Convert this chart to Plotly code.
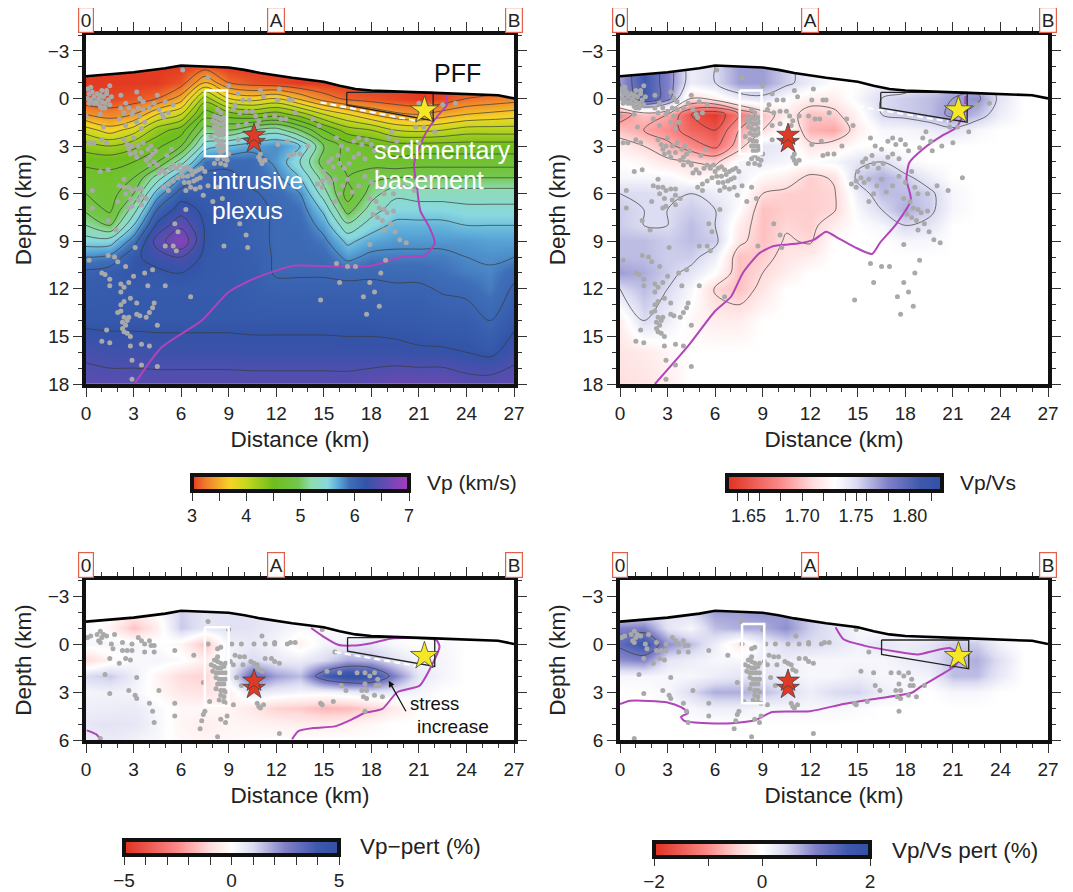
import numpy as np
import plotly.graph_objects as go

W, H = 1073, 892
PAGE_MARGIN = 8  # the page body offsets the figure
FONT = "Liberation Sans"
INK = "#222222"

# ---------- grids ----------
x_cols = [0, 1.5, 3, 4.5, 6, 7.5, 9, 10.5, 12, 13.5, 15, 16.5, 18, 19.5, 21, 22.5, 24, 25.5, 27]
deep_rows = [-2, -1, 0, 1, 2, 3, 4, 5, 6, 7, 8, 9, 10, 11, 12, 14, 16, 18]
shallow_rows = [-2, -1, 0, 1, 2, 3, 4, 5, 6]

vp_cols = [
 [3.0, 3.0, 3.05, 3.4, 3.9, 4.3, 4.55, 4.7, 4.8, 4.95, 5.2, 5.5, 5.8, 6.05, 6.1, 6.15, 6.35, 6.5],
 [3.0, 3.0, 3.05, 3.3, 3.7, 4.2, 4.55, 4.65, 4.7, 4.75, 5.0, 5.5, 5.85, 6.1, 6.13, 6.15, 6.3, 6.5],
 [3.0, 3.0, 3.1, 3.4, 3.9, 4.35, 4.6, 4.8, 5.0, 5.3, 5.6, 5.9, 6.15, 6.18, 6.13, 6.15, 6.3, 6.5],
 [3.0, 3.0, 3.2, 3.8, 4.3, 4.55, 4.8, 5.3, 5.7, 6.0, 6.25, 6.5, 6.3, 6.15, 6.13, 6.15, 6.28, 6.5],
 [3.0, 3.1, 3.5, 4.0, 4.5, 4.8, 5.3, 5.8, 6.1, 6.3, 6.55, 6.8, 6.4, 6.2, 6.13, 6.15, 6.28, 6.5],
 [3.1, 3.6, 4.3, 4.7, 5.1, 5.5, 5.9, 6.05, 6.1, 6.15, 6.18, 6.18, 6.15, 6.15, 6.13, 6.15, 6.28, 6.5],
 [3.0, 3.2, 3.8, 4.5, 5.0, 5.6, 5.95, 6.05, 6.1, 6.1, 6.1, 6.1, 6.12, 6.12, 6.13, 6.15, 6.28, 6.5],
 [3.0, 3.1, 3.7, 4.4, 5.2, 5.7, 5.95, 5.95, 6.02, 6.05, 6.05, 6.05, 6.08, 6.1, 6.08, 6.15, 6.26, 6.5],
 [3.0, 3.05, 3.8, 4.5, 5.3, 5.8, 5.75, 5.85, 5.95, 5.98, 5.98, 5.98, 5.98, 5.98, 6.05, 6.15, 6.26, 6.5],
 [3.0, 3.0, 3.55, 4.3, 5.0, 5.6, 5.4, 5.6, 5.8, 5.9, 5.95, 5.97, 5.98, 5.98, 6.05, 6.15, 6.26, 6.5],
 [3.0, 3.0, 3.3, 4.0, 4.6, 5.0, 4.9, 5.1, 5.3, 5.55, 5.72, 5.85, 5.95, 5.98, 6.05, 6.15, 6.26, 6.5],
 [3.0, 3.0, 3.15, 3.8, 4.3, 4.7, 4.75, 4.8, 4.7, 4.9, 5.25, 5.55, 5.75, 5.95, 6.05, 6.15, 6.25, 6.5],
 [3.0, 3.0, 3.1, 3.6, 4.2, 4.6, 4.7, 4.95, 5.1, 5.3, 5.5, 5.7, 5.85, 5.98, 6.03, 6.15, 6.25, 6.55],
 [3.0, 3.0, 3.05, 3.45, 4.0, 4.5, 4.65, 5.0, 5.35, 5.5, 5.65, 5.75, 5.85, 5.95, 6.03, 6.13, 6.25, 6.6],
 [3.0, 3.0, 3.0, 3.4, 3.95, 4.5, 4.7, 5.0, 5.3, 5.5, 5.65, 5.75, 5.85, 5.95, 6.03, 6.13, 6.22, 6.6],
 [3.0, 3.0, 3.05, 3.5, 4.0, 4.5, 4.7, 5.0, 5.3, 5.5, 5.65, 5.75, 5.85, 5.9, 5.98, 6.1, 6.22, 6.6],
 [3.0, 3.0, 3.2, 3.6, 4.1, 4.5, 4.7, 5.0, 5.3, 5.45, 5.6, 5.75, 5.8, 5.85, 5.95, 6.1, 6.2, 6.5],
 [3.0, 3.0, 3.25, 3.65, 4.1, 4.5, 4.7, 5.0, 5.3, 5.45, 5.6, 5.72, 5.78, 5.82, 5.85, 6.0, 6.15, 6.5],
 [3.0, 3.1, 3.3, 3.7, 4.1, 4.5, 4.7, 5.0, 5.3, 5.45, 5.6, 5.72, 5.8, 5.95, 6.03, 6.15, 6.3, 6.55],
]

vpvs_cols = [
 [1.77, 1.77, 1.755, 1.68, 1.70, 1.72, 1.73, 1.735, 1.75, 1.755, 1.755, 1.76, 1.76, 1.77, 1.75, 1.72, 1.715, 1.712],
 [1.81, 1.81, 1.81, 1.70, 1.69, 1.71, 1.725, 1.735, 1.75, 1.75, 1.75, 1.76, 1.76, 1.765, 1.76, 1.75, 1.718, 1.715],
 [1.78, 1.78, 1.78, 1.69, 1.68, 1.695, 1.715, 1.735, 1.745, 1.75, 1.75, 1.755, 1.755, 1.755, 1.75, 1.74, 1.725, 1.72],
 [1.74, 1.74, 1.71, 1.65, 1.66, 1.68, 1.71, 1.725, 1.75, 1.755, 1.76, 1.76, 1.755, 1.745, 1.735, 1.725, 1.73, 1.73],
 [1.75, 1.75, 1.72, 1.635, 1.65, 1.665, 1.705, 1.73, 1.74, 1.75, 1.75, 1.755, 1.74, 1.73, 1.708, 1.72, 1.73, 1.73],
 [1.77, 1.77, 1.74, 1.67, 1.69, 1.70, 1.735, 1.74, 1.735, 1.73, 1.72, 1.715, 1.70, 1.70, 1.70, 1.72, 1.73, 1.73],
 [1.77, 1.77, 1.745, 1.70, 1.71, 1.745, 1.74, 1.725, 1.71, 1.70, 1.70, 1.70, 1.705, 1.71, 1.715, 1.73, 1.73, 1.73],
 [1.755, 1.755, 1.73, 1.72, 1.735, 1.74, 1.735, 1.72, 1.705, 1.705, 1.708, 1.712, 1.715, 1.72, 1.73, 1.73, 1.73, 1.73],
 [1.74, 1.74, 1.72, 1.70, 1.695, 1.715, 1.73, 1.705, 1.705, 1.705, 1.705, 1.708, 1.72, 1.73, 1.73, 1.73, 1.73, 1.73],
 [1.73, 1.73, 1.72, 1.705, 1.69, 1.72, 1.735, 1.712, 1.708, 1.708, 1.72, 1.73, 1.73, 1.73, 1.73, 1.73, 1.73, 1.73],
 [1.73, 1.73, 1.735, 1.725, 1.72, 1.73, 1.745, 1.755, 1.74, 1.735, 1.73, 1.73, 1.73, 1.73, 1.73, 1.73, 1.73, 1.73],
 [1.73, 1.74, 1.75, 1.75, 1.735, 1.73, 1.75, 1.765, 1.76, 1.75, 1.735, 1.73, 1.73, 1.73, 1.73, 1.73, 1.73, 1.73],
 [1.73, 1.74, 1.755, 1.755, 1.735, 1.73, 1.735, 1.755, 1.76, 1.765, 1.75, 1.735, 1.73, 1.73, 1.73, 1.73, 1.73, 1.73],
 [1.73, 1.75, 1.76, 1.76, 1.74, 1.73, 1.73, 1.74, 1.755, 1.755, 1.745, 1.735, 1.73, 1.73, 1.73, 1.73, 1.73, 1.73],
 [1.74, 1.76, 1.77, 1.775, 1.745, 1.73, 1.73, 1.73, 1.735, 1.735, 1.73, 1.73, 1.73, 1.73, 1.73, 1.73, 1.73, 1.73],
 [1.74, 1.76, 1.775, 1.76, 1.735, 1.73, 1.73, 1.73, 1.73, 1.73, 1.73, 1.73, 1.73, 1.73, 1.73, 1.73, 1.73, 1.73],
 [1.73, 1.74, 1.745, 1.74, 1.73, 1.73, 1.73, 1.73, 1.73, 1.73, 1.73, 1.73, 1.73, 1.73, 1.73, 1.73, 1.73, 1.73],
 [1.73] * 18,
 [1.73] * 18,
]

vp_pert_cols = [
 [0.3, 0.2, 0.2, -1.0, 1.0, 0.3, 0.5, 0.7, 0.5],
 [0.0, -0.3, 0.3, -0.3, 1.3, 0.4, 0.5, 0.8, 0.6],
 [-0.5, -1.5, 0.3, 0.2, 0.5, 0.3, 0.6, 0.7, 0.4],
 [0.0, -0.5, 0.1, 0.3, -0.3, -0.2, 0.2, 0.3, 0.2],
 [1.2, 1.3, -0.3, 0.1, -1.0, -0.7, -0.2, -0.3, -0.2],
 [0.8, 0.7, -1.5, -0.5, -1.2, -0.8, -0.2, -0.5, -0.3],
 [0.8, 0.9, 0.4, 0.3, 0.5, -0.5, -0.3, -0.3, -0.2],
 [0.8, 0.8, 0.6, 1.0, 3.2, 0.8, -0.7, -0.3, -0.1],
 [0.5, 0.5, 0.3, 0.6, 2.0, 0.5, -1.2, -0.4, 0.0],
 [0.2, 0.2, -0.4, 0.5, 1.5, 0.3, -1.3, -0.5, 0.0],
 [0.0, 0.2, 0.3, 1.0, 3.8, 0.3, -1.7, -0.5, 0.0],
 [0.0, 0.0, 0.5, 1.8, 4.8, 0.5, -1.6, -0.4, 0.0],
 [0.0, 0.0, 0.6, 1.6, 4.5, 0.8, -1.2, -0.2, 0.0],
 [0.0, 0.0, 0.2, 0.8, 2.5, 0.6, -0.6, 0.0, 0.0],
 [0.0, 0.0, 0.0, 0.3, 0.7, 0.3, -0.1, 0.0, 0.0],
 [0.0, 0.0, 0.2, 0.3, 0.3, 0.0, 0.0, 0.0, 0.0],
 [0.0] * 9,
 [0.0] * 9,
 [0.0] * 9,
]

vpvs_pert_cols = [
 [0.2, 1.0, 1.3, 0.9, 0.1, 0.0, 0.0, 0.0, 0.0],
 [0.3, 1.0, 1.7, 1.0, 0.1, 0.0, 0.0, 0.0, 0.0],
 [0.3, 0.3, 0.9, 0.3, 0.1, 0.1, 0.0, 0.0, 0.0],
 [0.4, 0.1, 0.6, 0.2, 0.1, 0.4, 0.1, 0.0, 0.0],
 [0.8, 0.6, 0.2, 0.1, 0.2, 0.7, 0.2, 0.0, 0.0],
 [0.8, 0.7, -0.25, 0.1, 0.3, 0.7, 0.2, 0.0, 0.0],
 [0.9, 0.7, 0.2, 0.2, 0.3, 0.6, 0.1, 0.0, 0.0],
 [0.8, 0.9, 0.4, 0.2, 0.2, 0.4, 0.1, 0.0, 0.0],
 [0.5, 0.5, 0.4, 0.1, 0.1, 0.2, 0.1, 0.0, 0.0],
 [0.2, 0.3, 0.3, 0.1, 0.1, 0.4, 0.1, 0.0, 0.0],
 [0.0, 0.1, 0.15, 0.1, 0.2, 0.45, 0.05, 0.0, 0.0],
 [0.0, 0.0, 0.3, 0.1, 0.1, 0.2, 0.0, 0.0, 0.0],
 [0.0, 0.0, 0.2, 0.2, 0.1, 0.1, 0.0, 0.0, 0.0],
 [0.0, 0.0, 0.3, 0.3, 0.15, 0.0, 0.0, 0.0, 0.0],
 [0.0, 0.1, 0.5, 0.6, 0.6, 0.1, 0.0, 0.0, 0.0],
 [0.0, 0.1, 0.5, 0.7, 0.6, 0.1, 0.0, 0.0, 0.0],
 [0.0, 0.0, 0.15, 0.35, 0.25, 0.0, 0.0, 0.0, 0.0],
 [0.0] * 9,
 [0.0] * 9,
]

# ---------- lines ----------
topo_x = [0, 3, 5, 6, 9, 10, 11, 13, 15, 16, 17, 18, 22, 26, 27]
topo_z = [-1.4, -1.65, -1.9, -2.08, -1.95, -1.8, -1.6, -1.3, -1.05, -0.8, -0.6, -0.5, -0.35, -0.2, 0]

purple_vp = [(3.05, 18), (4.76, 15.7), (7.3, 14), (9, 12.2), (10.75, 11.3), (13.1, 10.55), (15.9, 10.6), (18, 10.55),
             (20.1, 9.95), (21.4, 9.9), (22, 9.1), (21.65, 8.1), (21.1, 7.1), (20.9, 5.8), (20.7, 4.1), (21.4, 2.25),
             (22.1, 1.2), (22.8, 0.35), (22.7, -0.15)]
purple_vpvs = [(2.2, 18), (4.3, 15.6), (6, 13.4), (7, 12.5), (7.75, 11), (8.8, 9.75), (9.7, 9.3), (11.2, 9.15),
               (12.25, 8.9), (13, 8.4), (13.75, 8.8), (14.8, 9.37), (15.9, 9.8), (16.4, 9.1), (17.4, 7.95),
               (18.35, 6.4), (18.07, 5.1), (18.25, 4.05), (19.1, 3.2), (20.4, 2.3), (21.2, 1.85), (21.7, 0.9), (21.8, -0.15)]
purple_vp_pert_a = [(0.05, 5.4), (0.65, 5.65), (0.95, 6)]
purple_vp_pert_b = [(13, 5.95), (13.4, 5.45), (14.4, 5.25), (15.7, 5.15), (16.8, 4.7), (17.6, 4.3), (18.7, 4.05),
                    (19.65, 3), (21.05, 2.6), (21.7, 1.55), (22.3, 0.17), (22.1, -0.25), (21.2, -0.35), (19.3, -0.35),
                    (18, -0.05), (16.8, 0.1), (15.9, 0.05), (15, -0.45), (14.2, -1)]
purple_vpvs_pert = [(0, 3.75), (0.65, 3.55), (3, 3.65), (3.85, 3.95), (4.3, 4.3), (3.85, 4.55), (4.05, 4.8), (5.55, 4.95),
                    (7.05, 4.95), (8.55, 4.75), (9.6, 4.25), (12, 4.2), (14.1, 3.75), (16.25, 3.4), (18.4, 3.05), (19, 2.65),
                    (20.3, 1.9), (21.15, 1.35), (21.5, 0.75), (20.8, 0.25), (19.9, 0.4), (18.8, 0.65), (17.3, 0.45),
                    (15.4, 0.1), (14.1, -0.3), (13.6, -1.05)]

# ---------- earthquakes, wide section ----------
eq_surface = [(0.1, -0.6), (0.2, -0.3), (0.1, 0), (0.3, 0.1), (0.4, -0.4), (0.5, -0.1), (0.6, 0.2), (0.7, -0.3), (0.8, 0),
              (0.9, -0.2), (1.0, 0.2), (1.1, -0.1), (1.2, 0.3), (1.3, -0.3), (1.4, 0.1), (0.3, -0.7), (0.5, 0.3), (0.9, 0.5),
              (1.2, 0.6), (1.5, 0.4), (1.6, -0.1), (1.5, -0.8), (0.2, 0.3), (0.7, 0.3), (1.0, -0.5), (1.3, -0.5), (0, 1.1),
              (0.9, 1), (1.0, 0.6)]
eq_shallow = [(2.2, -0.2), (3.2, -0.4), (3.4, 0), (3.6, 0.2), (3.3, 0.6), (2.5, 0.3), (2.2, 0.6), (2.4, 0.9), (2.7, 0.6),
              (3.0, 0.8), (3.6, 0.7), (4.0, 0.6), (4.3, 0.3), (4.6, 0.7), (4.8, 1), (3.4, 1.1), (2.9, 1), (2.1, 1.3),
              (4.5, -0.2), (5.0, 0.2), (5.5, 0.4), (5.2, 0.9), (4.9, 1.2), (2.5, 1.7), (3.2, 1.5), (3.5, 1.9), (3.7, 1.5),
              (1.1, 1.8), (0.2, 2.8), (0.5, 2.8), (1.0, 2.6), (1.3, 2.8), (6.1, -1.8)]
eq_dipping = [(2.4, 2.6), (2.6, 2.9), (2.7, 3.2), (2.9, 3.0), (3.1, 3.4), (3.3, 3.0), (3.5, 3.4), (3.6, 2.8), (3.9, 3.2),
              (4.1, 3.0), (4.0, 3.7), (4.2, 3.5), (3.2, 3.7), (3.0, 2.5), (2.8, 3.5), (4.3, 4.0), (4.0, 4.2), (3.8, 3.9),
              (4.5, 4.2), (4.4, 3.3), (5.1, 3.6), (5.4, 3.2), (4.8, 4.5), (4.6, 4.7), (5.0, 4.7), (5.3, 4.4), (5.5, 4.2),
              (5.7, 4.4), (5.9, 4.2), (6.0, 4.6), (6.2, 4.4), (6.4, 4.3), (6.6, 4.5), (6.1, 4.9), (6.4, 4.9), (6.7, 4.8),
              (6.9, 4.6), (7.1, 4.5), (7.3, 4.4), (7.5, 4.6), (6.2, 5.3), (6.5, 5.3), (6.8, 5.2), (7.0, 5.1), (7.2, 5.0),
              (6.6, 5.6), (6.9, 5.7), (7.2, 5.6), (6.3, 5.8), (5.8, 5.0), (5.5, 5.2), (5.2, 5.4), (4.9, 5.6), (5.2, 5.8),
              (7.7, 5.5), (8.3, 5.6), (0.9, 4.6), (1.4, 4.5), (2.4, 5.1), (2.1, 5.5), (2.4, 5.6), (2.7, 5.6), (2.5, 6.0),
              (2.9, 5.8), (2.8, 6.3), (3.2, 5.7), (3.5, 5.7), (3.5, 6.1), (3.3, 6.4), (2.9, 6.8), (2.7, 6.9), (3.5, 6.7),
              (3.8, 6.3), (0.4, 5.8), (0.4, 6.9), (1.4, 7.7), (2.0, 6.5), (1.9, 8.3)]
eq_box = [(8.3, 0.7), (8.5, 0.9), (8.1, 1.1), (8.3, 1.2), (8.5, 1.3), (8.7, 1.2), (8.0, 1.4), (8.2, 1.5), (8.4, 1.6),
          (8.6, 1.6), (8.8, 1.5), (8.1, 1.8), (8.3, 1.9), (8.5, 2), (8.7, 1.9), (8.2, 2.2), (8.4, 2.3), (8.6, 2.3),
          (8.8, 2.2), (8.2, 2.6), (8.4, 2.7), (8.6, 2.7), (8.3, 3), (8.5, 3), (8.7, 3), (8.8, 3.2), (8.4, 3.3), (8.6, 3.3),
          (8.5, 3.6), (8.3, 3.8), (8.7, 3.8), (8.9, 3.9), (8.5, 4.1), (8.8, 4.2), (8.1, 4.1), (9, 3.5), (7.9, 2.4)]
eq_center = [(7.7, -1.3), (9.0, -0.8), (9.6, -0.3), (9.4, 0.4), (9.9, 0.1), (10.3, 0.1), (11.0, -0.5), (11.2, -0.1), (12.2, -0.6),
             (12.1, 0.1), (12.8, 0.1), (13, 0.1), (9.3, 0.7), (9.7, 0.9), (10.1, 0.8), (10.5, 0.8), (10.7, 1.1), (10.9, 1.4),
             (11.3, 1.1), (11.9, 1.1), (12.3, 1.3), (12.6, 1.3), (9.6, 1.7), (10.1, 1.6), (10.8, 1.7), (11.0, 3.5), (11.0, 3.9),
             (11.1, 4.1), (11.3, 3.9), (10.4, 2.6), (9.6, 2.6), (10.9, 3.7), (12.8, 3.6), (13.1, 3.5), (13.5, 3.5), (12.7, 2.7),
             (12.1, 2.9), (14, 3), (14.7, 1.7), (14.3, 1.3), (13.2, 0.9), (6.3, 7), (8.0, 6.5), (8.6, 6.3), (7.4, 6.1), (9.7, 7.9),
             (10.1, 8.6), (10.2, 9.4), (8.7, 9.3), (5.6, 7.9), (5.8, 8.4), (5, 9.3), (5.5, 9.3), (5.7, 9.6)]
eq_left_deep = [(0.2, 10.2), (1.4, 9.9), (1.8, 10), (2, 10.3), (2.5, 10.6), (3.1, 9.4), (1, 11), (1.2, 11.1), (1.5, 11.4),
                (1.5, 11.8), (2.2, 11.7), (2.4, 11.9), (2.7, 11.6), (3, 11.2), (2.2, 12.2), (3.7, 11), (4.2, 10.8), (3.9, 11.8),
                (5, 11.8), (6.6, 12.5), (2.2, 13), (2.2, 13.4), (2.4, 12.8), (2.8, 12.6), (3.2, 12.9), (3.2, 13.6), (2, 13.5),
                (2.4, 13.8), (2.3, 14.1), (2.5, 14.3), (2.3, 14.5), (2.6, 14.0), (2.7, 13.8), (2.4, 14.7), (2.6, 14.8), (2.8, 15),
                (3.4, 13.7), (3.8, 13.8), (4, 13.5), (4.2, 13.2), (4.3, 12.9), (4.5, 14.3), (1.3, 14.6), (1, 15.3), (1.5, 15.4),
                (2.8, 15.6), (3.5, 15.5), (4, 15.6), (2.9, 16.5), (3.5, 16.8), (4.5, 16.9), (2.9, 17.7)]
eq_right = [(15.8, 2.5), (16.1, 3), (16.5, 3.2), (16.9, 2.7), (17.2, 2.5), (17.4, 2.9), (17.7, 2.6), (18, 2.9), (18.2, 3.3),
            (15.9, 3.6), (15.5, 3.8), (15.3, 4.0), (15.6, 4.3), (16, 4.1), (16.3, 4.4), (16.6, 4.1), (16.9, 3.7), (17.2, 3.5),
            (17.6, 3.8), (15, 4.6), (15.2, 5), (14.9, 5.2), (15.4, 5.3), (15.7, 5.1), (14.6, 5.4), (14.9, 5.6), (16.2, 5.5),
            (16.5, 5.1), (16.8, 5.9), (17.2, 5.5), (16, 6), (15.7, 6.5), (17.6, 4.9), (18, 5.3), (18.4, 4.6), (18.6, 5.6),
            (18.8, 6), (17.9, 6.3), (18.3, 6.5), (18.5, 6.9), (18.8, 7), (18.1, 7.3), (18.4, 7.5), (18.7, 7.7), (19.0, 7.2),
            (19.4, 7.1), (19.2, 7.9), (19.5, 8.4), (18.8, 8.3), (19.8, 8.9), (20.2, 9.1), (17.9, 9.2), (21.6, 5.0), (20.7, 5.8),
            (20, 5.5), (19.4, 6.0), (21, 2.8), (20.3, 3.0), (20.8, 1.8), (21.3, 1.8), (19.3, 2.1), (19.1, 2.5), (19.6, 2.7),
            (19.7, 3.3), (18.9, 3.1), (22, 2.1), (21, 0.3), (21.8, 0.5), (22.5, 0.4), (23.3, 0.3), (15.8, 10.4), (16, 11.6),
            (16.5, 10.6), (17, 10.6), (18.9, 10.2), (18.6, 11), (17.9, 11.6), (18.2, 12.2), (17.5, 12.5), (18.5, 13.1),
            (17.7, 13.6), (14.8, 12.7)]
# ---------- earthquakes, shallow section ----------
eqp_left = [(0.1, -0.4), (0.3, -0.5), (0.7, -0.6), (0.9, -0.8), (1, -0.4), (0.8, -0.2), (1.3, -0.5), (1.1, -0.6), (0.9, -0.1),
            (1.8, -0.6), (1.6, 0), (1.7, 0.3), (2.3, -0.1), (2.3, 0.4), (2.6, 0.4), (2.9, 0), (2.9, 0.4), (3.3, -0.4), (3.5, -0.2),
            (3.7, 0), (3.7, 0.5), (4, -0.2), (4.1, 0.1), (4.3, 0.1), (4.3, 0.5), (5.6, 0.4), (1.5, 0.9), (2.1, 1.2), (2.5, 0.9),
            (2.8, 1), (1.2, 1.9), (3.2, 2.1), (1.5, 3.1), (2.7, 2.9), (3.1, 3.2), (3.2, 3.4), (4.0, 3.7), (4.2, 4.2), (4.3, 4.9),
            (4.6, 2.9), (5.6, 3.7), (5.6, 4.5), (6.8, 0.7), (7.2, 5.3), (7.3, 4.8), (7.4, 4.4), (7.5, 4.2), (0.9, 5.9)]
eqp_box = [(7.7, -1.4), (7.7, 0), (8.3, 0.3), (8.5, 0.2), (8.3, 0.8), (8.1, 1.0), (8.3, 1.1), (8.5, 1.2), (7.9, 1.3), (8.1, 1.4),
           (8.3, 1.5), (8.5, 1.5), (8.7, 1.4), (8.8, 1.2), (8.0, 1.7), (8.2, 1.8), (8.4, 1.8), (8.6, 1.8), (8.8, 1.8), (8.2, 2.1),
           (8.4, 2.2), (8.6, 2.2), (8.8, 2.2), (8.3, 2.5), (8.5, 2.5), (8.7, 2.5), (8.2, 2.8), (8.5, 2.9), (8.7, 2.9), (8.8, 3),
           (8.5, 3.2), (8.7, 3.3), (8.4, 3.5), (8.7, 3.6), (8.9, 3.7), (7.8, 3.6), (7.4, 2.4), (8.9, 4.5), (8.5, 4.7), (8.8, 4.9),
           (8.3, 5.8)]
eqp_center = [(9, -0.9), (9.8, 0), (9.2, 0), (9.4, 0.7), (9.7, 0.8), (10, 0.8), (9.1, 1.1), (9.3, 1.3), (9.9, 1.3), (10.4, 1.1),
              (10.6, 1.2), (10.8, 1.3), (10.6, 0), (11.1, -0.5), (11.3, 0), (11.9, 0), (11.9, -0.1), (12.7, 0), (12.9, -0.1),
              (13.2, -0.1), (11.3, 0.9), (11.7, 0.9), (11.9, 1.1), (12.2, 1.2), (10.9, 1.6), (11.1, 1.7), (9.5, 2.1), (9.8, 2.6),
              (10.8, 3.7), (10.9, 3.9), (11.2, 3.8), (11.0, 4), (12.2, 5.6), (9.3, 3.8)]
eqp_right = [(14.9, -0.9), (15.7, 0.5), (14.8, 3.7), (14.9, 3.8), (15.6, 3.6), (15.2, 1.7), (16, 1.8), (17.1, 1.8), (17.6, 1.8),
             (18.2, 1.8), (17.9, 2), (18.4, 2.2), (18.5, 2.6), (18.3, 2.6), (17.6, 2.5), (16.1, 2.6), (16.4, 2.9), (17.4, 2.9),
             (17.7, 2.9), (17.5, 3.3), (17.7, 3.4), (18.2, 3.2), (18.7, 3.3), (17.6, 4.2), (19.2, 2.6)]
quakes_wide = eq_surface + eq_shallow + eq_dipping + eq_box + eq_center + eq_left_deep + eq_right
quakes_shallow = eqp_left + eqp_box + eqp_center + eqp_right

# ---------- colours ----------
vp_scale = [[0, "#e33a22"], [0.0625, "#ef7c2c"], [0.175, "#f6d327"], [0.25, "#c4d81f"], [0.375, "#6fbe1c"],
            [0.49, "#74c64e"], [0.55, "#8fdcb0"], [0.625, "#88d8e0"], [0.675, "#5aa8d8"], [0.725, "#3f6fb8"],
            [0.8, "#3354a8"], [0.875, "#5a4db0"], [1, "#a83cc0"]]
div_scale = [[0, "#e03020"], [0.25, "#fb8a8a"], [0.4, "#ffdcdc"], [0.5, "#ffffff"], [0.6, "#dcdcf2"],
             [0.75, "#8080c8"], [0.9, "#3f58ac"], [1, "#3050a8"]]


def px_x(px):
    return (px - PAGE_MARGIN) / W


def px_y(px):
    return 1 - (px - PAGE_MARGIN) / H


fig = go.Figure()
STAR_LINE = "#444444"


def panel(idx, xpx, ypx, yr, zcols, rows, zmin, zmax, cs, quakes, purple_lines, box, cb, contour_sets, pff, dash):
    xa, ya = ("x" if idx == 1 else f"x{idx}"), ("y" if idx == 1 else f"y{idx}")
    z = np.array(zcols).T
    fig.add_trace(go.Heatmap(x=x_cols, y=rows, z=z, zmin=zmin, zmax=zmax, colorscale=cs, zsmooth="best", xaxis=xa, yaxis=ya,
                             hoverinfo="skip",
                             colorbar=dict(orientation="h", lenmode="pixels", len=cb["x1"] - cb["x0"], thickness=cb["th"],
                                           thicknessmode="pixels", x=px_x(cb["x0"]), xanchor="left", y=px_y(cb["y"]), yanchor="top",
                                           xpad=0, ypad=0, outlinewidth=4, outlinecolor="#111", borderwidth=0,
                                           ticks="outside", ticklen=cb.get("tl", 8), tickwidth=1, tickcolor="#333", tickmode="array",
                                           tickvals=cb["vals"], ticktext=cb["text"],
                                           tickfont=dict(family=FONT, size=cb.get("fs", 18), color=INK))))
    for c in contour_sets:
        fig.add_trace(go.Contour(x=x_cols, y=rows, z=z, xaxis=xa, yaxis=ya, showscale=False, hoverinfo="skip",
                                 contours=dict(coloring="none", start=c[0], end=c[1], size=c[2]),
                                 line=dict(color="#3a3a3a", width=0.7, smoothing=1)))
    # white mask above the topography
    fig.add_trace(go.Scatter(x=topo_x + [27, 0], y=topo_z + [-4, -4], mode="lines", fill="toself", fillcolor="white",
                             line=dict(width=0, color="white"), xaxis=xa, yaxis=ya, hoverinfo="skip"))
    for line in purple_lines:
        fig.add_trace(go.Scatter(x=[p[0] for p in line], y=[p[1] for p in line], mode="lines",
                                 line=dict(color="#b044b8", width=2, shape="spline", smoothing=0.6), xaxis=xa, yaxis=ya, hoverinfo="skip"))
    fig.add_trace(go.Scatter(x=[q[0] for q in quakes], y=[q[1] for q in quakes], mode="markers",
                             marker=dict(color="#a9a9a9", size=5), xaxis=xa, yaxis=ya, hoverinfo="skip"))
    if dash:
        fig.add_trace(go.Scatter(x=dash[0], y=dash[1], mode="lines", line=dict(color="white", width=2, dash="6px,4px"),
                                 xaxis=xa, yaxis=ya, hoverinfo="skip"))
    fig.add_trace(go.Scatter(x=box[0], y=box[1], mode="lines", line=dict(color="white", width=2.5), xaxis=xa, yaxis=ya, hoverinfo="skip"))
    fig.add_trace(go.Scatter(x=pff[0], y=pff[1], mode="lines", line=dict(color="#222", width=1.3), xaxis=xa, yaxis=ya, hoverinfo="skip"))
    fig.add_trace(go.Scatter(x=topo_x, y=topo_z, mode="lines", line=dict(color="black", width=2.6), xaxis=xa, yaxis=ya, hoverinfo="skip"))
    fig.add_trace(go.Scatter(x=[10.6, 10.6], y=[2.75, 2.3], mode="markers",
                             marker=dict(symbol="star", size=17, color="#de3a26", line=dict(color=STAR_LINE, width=0.8)),
                             xaxis=xa, yaxis=ya, hoverinfo="skip"))
    fig.add_trace(go.Scatter(x=[21.35], y=[0.75], mode="markers",
                             marker=dict(symbol="star", size=21, color="#f5e626", line=dict(color=STAR_LINE, width=0.8)),
                             xaxis=xa, yaxis=ya, hoverinfo="skip"))
    ax_common = dict(showgrid=False, zeroline=False, showline=True, linecolor="#111", linewidth=3.8, mirror="allticks",
                     ticks="outside", ticklen=9, tickwidth=1.1, tickcolor="#333",
                     tickfont=dict(family=FONT, size=19, color=INK))
    minor = dict(ticks="outside", ticklen=4.5, tickwidth=1, tickcolor="#333", dtick=1, showgrid=False)
    fig.update_layout(**{
        ("xaxis" if idx == 1 else f"xaxis{idx}"): dict(
            domain=[px_x(xpx[0]), px_x(xpx[1])], range=[0, 27], tick0=0, dtick=3, anchor=ya, minor=dict(minor, tick0=0),
            title=dict(text="Distance (km)", font=dict(family=FONT, size=22.5, color=INK), standoff=10), **ax_common),
        ("yaxis" if idx == 1 else f"yaxis{idx}"): dict(
            domain=[px_y(ypx[1]), px_y(ypx[0])], range=yr, tick0=-3, dtick=3, anchor=xa, minor=dict(minor, tick0=-3),
            title=dict(text="Depth (km)", font=dict(family=FONT, size=22.5, color=INK), standoff=11), **ax_common),
    })
    ann = []
    for lab, xv in (("0", 0), ("A", 12), ("B", 27)):
        ann.append(dict(text=lab, x=xv, xref=xa, y=px_y(ypx[0] - 15), yref="paper", yanchor="middle", showarrow=False, bgcolor="white",
                        bordercolor="#e2604a", borderwidth=1.2, borderpad=1.5, font=dict(family=FONT, size=19, color=INK)))
    return ann


def frac_box(x0, x1, z0, z1):
    return [x0, x1, x1, x0, x0], [z0, z0, z1, z1, z0]


X1, X2 = (86, 514), (620, 1048)
Y1, Y2 = (35, 384), (580, 740)

ann = []
ann += panel(1, X1, Y1, [18, -4], vp_cols, deep_rows, 3, 7, vp_scale, quakes_wide, [purple_vp], frac_box(7.5, 8.9, -0.5, 3.65),
             dict(x0=192, x1=409, y=474.5, th=16, vals=[3, 3.5, 4, 4.5, 5, 5.5, 6, 6.5, 7], text=["3", "", "4", "", "5", "", "6", "", "7"]),
             [(3.2, 6.8, 0.2)], ([16.45, 21.9, 21.9, 16.45, 16.45], [-0.38, -0.38, 1.4, 0.42, -0.38]), ([14.8, 20.8], [0.25, 1.4]))
ann += panel(2, X2, Y1, [18, -4], vpvs_cols, deep_rows, 1.63, 1.83, div_scale, quakes_wide, [purple_vpvs], frac_box(7.55, 8.93, -0.5, 3.5),
             dict(x0=727, x1=942, y=474.5, th=16,
                  vals=[1.64, 1.65, 1.66, 1.68, 1.70, 1.72, 1.74, 1.75, 1.76, 1.78, 1.80, 1.82],
                  text=["", "1.65", "", "", "1.70", "", "", "1.75", "", "", "1.80", ""]),
             [(1.63, 1.71, 0.02), (1.75, 1.81, 0.02)], ([16.45, 21.9, 21.9, 16.45, 16.45], [-0.38, -0.38, 1.5, 0.6, -0.38]), ([15, 20.7], [0.5, 1.45]))
ann += panel(3, X1, Y2, [6, -4], vp_pert_cols, shallow_rows, -5, 5, div_scale, quakes_shallow, [purple_vp_pert_a, purple_vp_pert_b],
             frac_box(7.5, 9, -1.05, 3.87),
             dict(x0=124, x1=339, y=840, th=15, fs=19, vals=list(range(-5, 6)), text=["\u22125", "", "", "", "", "0", "", "", "", "", "5"]),
             [(3, 3, 1)], ([16.5, 22, 22, 16.5, 16.5], [-0.4, -0.4, 1.4, 0.45, -0.4]), ([15.7, 21], [0.5, 1.4]))
ann += panel(4, X2, Y2, [6, -4], vpvs_pert_cols, shallow_rows, -2, 2, div_scale, quakes_shallow, [purple_vpvs_pert],
             frac_box(7.7, 9.1, -1.25, 3.7),
             dict(x0=654, x1=870, y=842, th=15, fs=19, tl=7, vals=[-2, -1, 0, 1, 2], text=["\u22122", "", "0", "", "2"]),
             [(1.2, 1.2, 1)], ([16.5, 22, 22, 16.5, 16.5], [-0.25, -0.25, 1.55, 0.65, -0.25]), None)


def text_px(t, xp, yp, size=19, color=INK, xanchor="left"):
    return dict(text=t, x=px_x(xp), y=px_y(yp), xref="paper", yref="paper", xanchor=xanchor, yanchor="middle",
                showarrow=False, font=dict(family=FONT, size=size, color=color))


ann += [text_px("Vp (km/s)", 425, 482, 21), text_px("Vp/Vs", 958, 482, 21), text_px("Vp\u2212pert (%)", 358, 846, 22.5),
        text_px("Vp/Vs pert (%)", 890, 850, 22.5),
        text_px("PFF", 432, 73, 25, "#111"),
        text_px("intrusive", 210, 180, 24.5, "white"), text_px("plexus", 210, 211, 24.5, "white"),
        text_px("sedimentary", 372, 150, 25, "white"), text_px("basement", 372, 180, 25, "white"),
        text_px("stress", 408, 703, 18.5, "#111"), text_px("increase", 415, 726, 19, "#111"),
        dict(x=19.1, y=2.3, xref="x3", yref="y3", text="", showarrow=True, arrowhead=2, arrowsize=1, arrowwidth=1.2,
             arrowcolor="#111", ax=18, ay=32)]

fig.update_layout(width=W, height=H, margin=dict(l=0, r=0, t=0, b=0, autoexpand=False), paper_bgcolor="white", plot_bgcolor="white",
                  showlegend=False, annotations=ann, font=dict(family=FONT))
fig.write_html("out.html")
